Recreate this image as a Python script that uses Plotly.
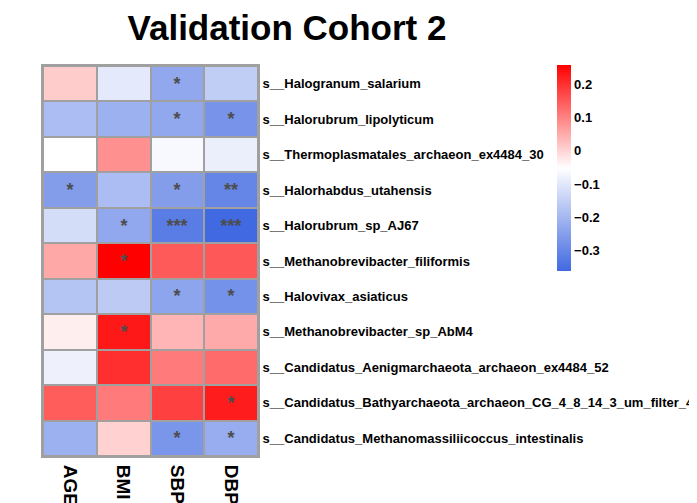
import plotly.graph_objects as go

columns = ["AGE", "BMI", "SBP", "DBP"]
rows = [
    "s__Halogranum_salarium",
    "s__Halorubrum_lipolyticum",
    "s__Thermoplasmatales_archaeon_ex4484_30",
    "s__Halorhabdus_utahensis",
    "s__Halorubrum_sp_AJ67",
    "s__Methanobrevibacter_filiformis",
    "s__Halovivax_asiaticus",
    "s__Methanobrevibacter_sp_AbM4",
    "s__Candidatus_Aenigmarchaeota_archaeon_ex4484_52",
    "s__Candidatus_Bathyarchaeota_archaeon_CG_4_8_14_3_um_filter_4",
    "s__Candidatus_Methanomassiliicoccus_intestinalis",
]
values = [
    [0.009, -0.097, -0.233, -0.155],
    [-0.190, -0.214, -0.233, -0.275],
    [-0.053, 0.082, -0.065, -0.086],
    [-0.255, -0.190, -0.255, -0.304],
    [-0.123, -0.233, -0.322, -0.363],
    [0.053, 0.257, 0.148, 0.150],
    [-0.175, -0.162, -0.240, -0.279],
    [-0.032, 0.228, 0.037, 0.050],
    [-0.081, 0.200, 0.108, 0.128],
    [0.145, 0.108, 0.179, 0.223],
    [-0.214, 0.003, -0.270, -0.223],
]
stars = [
    ["", "", "*", ""],
    ["", "", "*", "*"],
    ["", "", "", ""],
    ["*", "", "*", "**"],
    ["", "*", "***", "***"],
    ["", "*", "", ""],
    ["", "", "*", "*"],
    ["", "*", "", ""],
    ["", "", "", ""],
    ["", "", "", "*"],
    ["", "", "*", "*"],
]
colorbar_ticks = [-0.3, -0.2, -0.1, 0, 0.1, 0.2]

W, H = 697, 503
OFF = 8  # default page body margin
FONT = "Arial, Liberation Sans, sans-serif"

fig = go.Figure(go.Heatmap(
    z=values, x=columns, y=rows, text=stars,
    texttemplate="%{text}",
    textfont=dict(family=FONT, size=18, color="#4d4d4d", weight="bold"),
    colorscale=[[0, "#4169E1"], [0.5, "#FFFFFF"], [1, "#FF0000"]],
    xgap=2, ygap=2,
    hoverongaps=False,
    colorbar=dict(
        xref="container", x=(557 - OFF) / W, xanchor="left",
        yref="container", y=1 - 74 / H, yanchor="top",
        lenmode="pixels", len=206, thickness=14,
        xpad=0, ypad=0,
        outlinewidth=0, ticks="",
        tickvals=colorbar_ticks,
        tickfont=dict(family=FONT, size=13, color="black", weight="bold"),
    ),
))

fig.update_layout(
    width=W, height=H,
    margin=dict(l=43 - OFF, r=W - (258 - OFF), t=66 - OFF, b=H - (456 - OFF), autoexpand=False),
    paper_bgcolor="white", plot_bgcolor="#a0a0a0",
    title=dict(text="<b>Validation Cohort 2</b>", xref="container", x=(287 - OFF) / W,
               xanchor="center", yref="container", y=1 - (28 - OFF) / H, yanchor="middle",
               font=dict(family=FONT, size=35, color="black")),
)
fig.update_xaxes(side="bottom", tickangle=90, showgrid=False, zeroline=False,
                 ticks="", showline=True, mirror=True, linecolor="#a0a0a0", linewidth=2,
                 ticklabelstandoff=3,
                 tickfont=dict(family=FONT, size=19, color="black", weight="bold"),
                 automargin=False)
fig.update_yaxes(side="right", autorange="reversed", showgrid=False, zeroline=False,
                 ticks="", showline=True, mirror=True, linecolor="#a0a0a0", linewidth=2,
                 tickfont=dict(family=FONT, size=13, color="black", weight="bold"),
                 automargin=False)

fig.write_html("out.html")
